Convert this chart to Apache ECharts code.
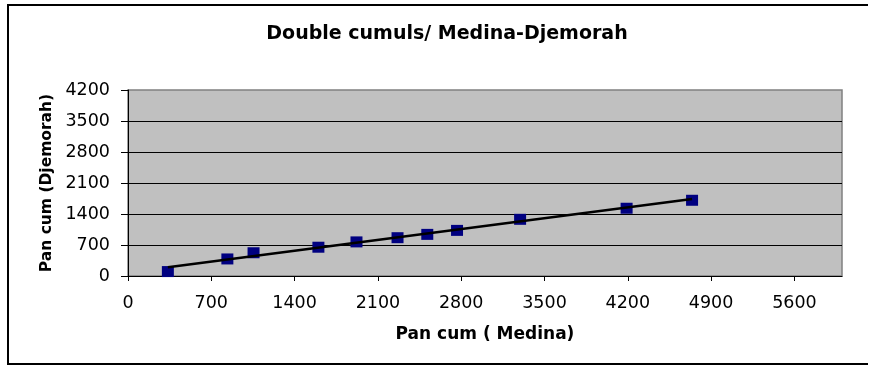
<!DOCTYPE html>
<html>
<head>
<meta charset="utf-8">
<title>Double cumuls/ Medina-Djemorah</title>
<script src="https://cdn.jsdelivr.net/npm/echarts@6/dist/echarts.min.js"></script>
<style>
  html, body { margin: 0; padding: 0; background: #ffffff; overflow: hidden; }
  #chart { width: 871px; height: 367px; }
</style>
</head>
<body>
<div id="chart"></div>
<script>
// Cumulative rainfall: Medina station (x) against Djemorah station (y)
const medinaCum   = [335, 835, 1055, 1600, 1920, 2265, 2515, 2765, 3295, 4190, 4740];
const djemorahCum = [100, 385, 525, 650, 770, 865, 940, 1030, 1280, 1530, 1710];

// Axis tick positions
const xTicks = [0, 700, 1400, 2100, 2800, 3500, 4200, 4900, 5600];
const yTicks = [0, 700, 1400, 2100, 2800, 3500, 4200];

const titleText = 'Double cumuls/ Medina-Djemorah';
const xName = 'Pan cum ( Medina)';
const yName = 'Pan cum (Djemorah)';

// Scatter points
const points = medinaCum.map((x, i) => [x, djemorahCum[i]]);

// Linear least-squares trend line across the observed range
const n = medinaCum.length;
const mx = medinaCum.reduce((a, b) => a + b, 0) / n;
const my = djemorahCum.reduce((a, b) => a + b, 0) / n;
let sxy = 0, sxx = 0;
for (let i = 0; i < n; i++) {
  sxy += (medinaCum[i] - mx) * (djemorahCum[i] - my);
  sxx += (medinaCum[i] - mx) * (medinaCum[i] - mx);
}
const slope = sxy / sxx;
const intercept = my - slope * mx;
const xLo = Math.min(...medinaCum);
const xHi = Math.max(...medinaCum);
const trend = [[xLo, intercept + slope * xLo], [xHi, intercept + slope * xHi]];

const plainNumber = v => String(v);

const chart = echarts.init(document.getElementById('chart'), null, { renderer: 'canvas' });

chart.setOption({
  backgroundColor: '#ffffff',
  animation: false,
  title: {
    text: titleText,
    left: 442,
    top: 20,
    textAlign: 'center',
    textStyle: {
      fontFamily: 'DejaVu Sans',
      fontWeight: 'bold',
      fontSize: 19,
      color: '#000000'
    }
  },
  // Outer chart frame: top, left and bottom edges
  graphic: [
    {
      type: 'line',
      shape: { x1: 7, y1: 5, x2: 868, y2: 5 },
      style: { stroke: '#000000', lineWidth: 2 },
      silent: true, z: 100
    },
    {
      type: 'line',
      shape: { x1: 8, y1: 4, x2: 8, y2: 365 },
      style: { stroke: '#000000', lineWidth: 2 },
      silent: true, z: 100
    },
    {
      type: 'line',
      shape: { x1: 7, y1: 364, x2: 868, y2: 364 },
      style: { stroke: '#000000', lineWidth: 2 },
      silent: true, z: 100
    }
  ],
  grid: {
    left: 128,
    right: 29,
    top: 90,
    bottom: 91,
    show: true,
    backgroundColor: '#C0C0C0',
    borderColor: '#808080',
    borderWidth: 1.5
  },
  xAxis: {
    type: 'value',
    min: 0,
    max: 6000,
    interval: 700,
    name: xName,
    nameLocation: 'middle',
    nameGap: 50,
    nameTextStyle: {
      fontFamily: 'DejaVu Sans',
      fontWeight: 'bold',
      fontSize: 17,
      color: '#000000'
    },
    axisLine: { show: true, onZero: false, lineStyle: { color: '#000000', width: 1 } },
    axisTick: { show: true, inside: false, length: 5, customValues: xTicks, lineStyle: { color: '#000000' } },
    axisLabel: {
      customValues: xTicks,
      formatter: plainNumber,
      margin: 18,
      fontFamily: 'DejaVu Sans',
      fontSize: 17.5,
      color: '#000000'
    },
    splitLine: { show: false }
  },
  yAxis: {
    type: 'value',
    min: 0,
    max: 4200,
    interval: 700,
    name: yName,
    nameLocation: 'middle',
    nameGap: 71,
    nameRotate: 90,
    nameTextStyle: {
      fontFamily: 'DejaVu Sans',
      fontWeight: 'bold',
      fontSize: 15.5,
      color: '#000000'
    },
    axisLine: { show: true, onZero: false, lineStyle: { color: '#000000', width: 1 } },
    axisTick: { show: true, inside: false, length: 7, customValues: yTicks, lineStyle: { color: '#000000' } },
    axisLabel: {
      customValues: yTicks,
      formatter: plainNumber,
      margin: 18,
      fontFamily: 'DejaVu Sans',
      fontSize: 17.5,
      color: '#000000'
    },
    splitLine: {
      show: true,
      showMinLine: false,
      showMaxLine: false,
      lineStyle: { color: '#000000', width: 1 }
    }
  },
  series: [
    {
      name: 'points',
      type: 'scatter',
      data: points,
      symbol: 'rect',
      symbolSize: [12, 11],
      itemStyle: { color: '#000080', opacity: 1 },
      z: 2
    },
    {
      name: 'trend',
      type: 'line',
      data: trend,
      showSymbol: false,
      symbol: 'none',
      lineStyle: { color: '#000000', width: 2.5 },
      z: 3
    }
  ]
});
</script>
</body>
</html>
